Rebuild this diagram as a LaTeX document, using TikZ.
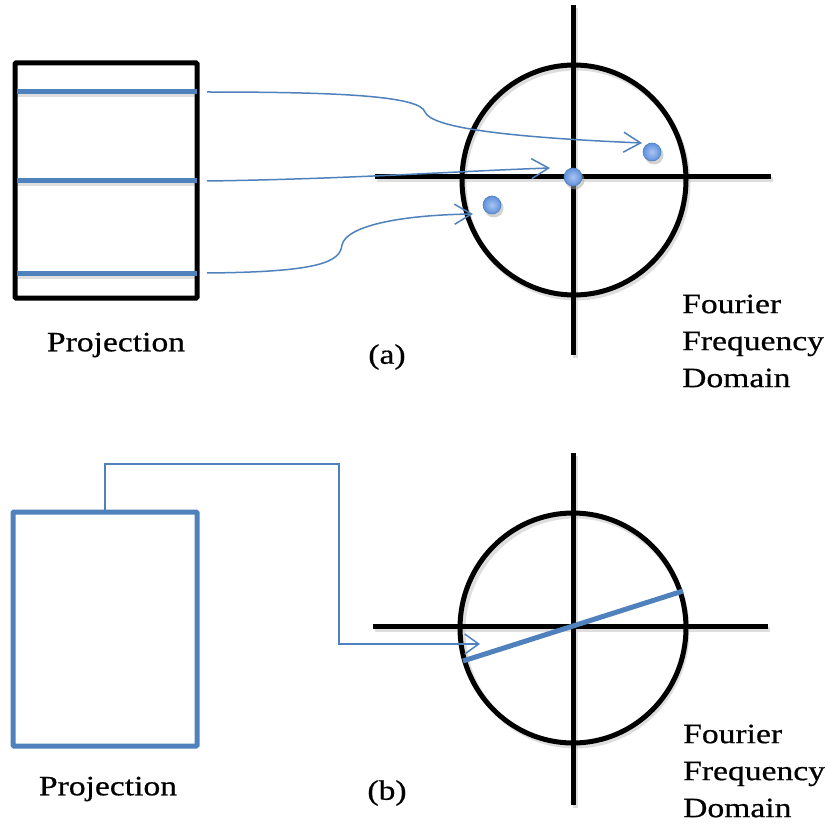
\documentclass[tikz,border=0pt]{standalone}
\usepackage{fontspec}
\setmainfont[FakeStretch=1.2,FakeBold=0.6]{Liberation Serif}
\usetikzlibrary{arrows.meta,shapes.geometric}
\definecolor{offblue}{HTML}{4F81BD}
\definecolor{dotlight}{HTML}{A9C6F2}
\definecolor{dotmid}{HTML}{5E8FDB}
\begin{document}
\begin{tikzpicture}[x=1pt,y=-1pt,
  blk/.style={line width=5pt,black},
  bluebar/.style={line width=5pt,offblue},
  conn/.style={line width=1.5pt,offblue,-{Straight Barb[length=17pt,width=20pt,line width=1.5pt]}},
  elbow/.style={line width=1.5pt,offblue,-{Straight Barb[length=14pt,width=20pt,line width=1.5pt]}},
  shadow/.style={line width=5pt,black!25,opacity=0.5},
  dot/.style={circle,minimum size=18pt,inner sep=0pt,inner color=dotlight,outer color=dotmid,draw=offblue,line width=0.6pt},
  lbl/.style={font=\fontsize{28}{37}\selectfont,inner sep=0pt},
  lblL/.style={lbl,align=left,anchor=west}
]
\useasboundingbox (0,0) rectangle (828,824);
\fill[white] (0,0) rectangle (828,824);

% ---------------- (a) ----------------
% shadows
\draw[shadow] (17,95) -- (199,95);
\draw[shadow] (17,184) -- (199,184);
\draw[shadow] (17,276) -- (199,276);
\draw[shadow] (377,180) -- (773,180);
\draw[shadow] (575,8) -- (575,358);
\draw[shadow] (576,183) ellipse [x radius=112,y radius=115];

\node[draw,blk,rounded corners=1pt,minimum width=182pt,minimum height=235pt,inner sep=0pt] (projA) at (106,180.5) {};
\coordinate (a1l) at (17,92); \coordinate (a1r) at (197,92);
\coordinate (a2l) at (17,181); \coordinate (a2r) at (197,181);
\coordinate (a3l) at (17,273); \coordinate (a3r) at (197,273);
\draw[bluebar] (a1l) -- (a1r);
\draw[bluebar] (a2l) -- (a2r);
\draw[bluebar] (a3l) -- (a3r);

\node[draw,blk,ellipse,minimum width=224pt,minimum height=230pt,inner sep=0pt] (circA) at (574,180) {};
\coordinate (hA1) at (375,177); \coordinate (hA2) at (771,177);
\coordinate (vA1) at (573,5); \coordinate (vA2) at (573,355);
\draw[blk] (hA1) -- (hA2);
\draw[blk] (vA1) -- (vA2);

% dots
\fill[black!35,opacity=0.5] (575,180) circle (9.5);
\fill[black!35,opacity=0.5] (654,155) circle (9.5);
\fill[black!35,opacity=0.5] (494,208) circle (9.5);
\node[dot] (d0) at (573,177) {};
\node[dot] (d1) at (652,152) {};
\node[dot] (d2) at (492,205) {};

% connectors
\coordinate (s1) at (207,92); \coordinate (t1) at (642,143);
\coordinate (s2) at (207,181); \coordinate (t2) at (550,168);
\coordinate (s3) at (207,273); \coordinate (t3) at (473,214);
\draw[conn] (s1) .. controls (340,92) and (420,96) .. (425,112)
  .. controls (431,127) and (500,137) .. (t1);
\draw[conn] (s2) .. controls (350,179) and (460,171) .. (t2);
\draw[conn] (s3) .. controls (320,272) and (340,262) .. (342,245)
  .. controls (346,226) and (400,215) .. (t3);

\node[lbl] (projAlbl) at (116,345) {Projection};
\node[lbl] (alab) at (387,357) {(a)};
\node[lblL] (fourA) at (682,341) {Fourier\\Frequency\\Domain};

% ---------------- (b) ----------------
\draw[shadow] (375,629) -- (770,629);
\draw[shadow] (575,456) -- (575,808);
\draw[shadow] (575,631) ellipse [x radius=112,y radius=115];

\node[draw,line width=5pt,offblue,rounded corners=1pt,minimum width=184pt,minimum height=234pt,inner sep=0pt] (projB) at (105,629) {};
\node[draw,blk,ellipse,minimum width=226pt,minimum height=230pt,inner sep=0pt] (circB) at (573,628) {};
\coordinate (hB1) at (373,626); \coordinate (hB2) at (768,626);
\coordinate (vB1) at (573,453); \coordinate (vB2) at (573,805);
\draw[blk] (hB1) -- (hB2);
\draw[blk] (vB1) -- (vB2);
\coordinate (lb1) at (463,661); \coordinate (lb2) at (683,591);
\draw[bluebar] (lb1) -- (lb2);

\coordinate (eb) at (480,644);
\draw[elbow] (projB.north -| 105,0) -- (105,464) -- (339,464) -- (339,644) -- (eb);

\node[lbl] (projBlbl) at (108,789) {Projection};
\node[lbl] (blab) at (387,793) {(b)};
\node[lblL] (fourB) at (683,771) {Fourier\\Frequency\\Domain};
\end{tikzpicture}
\end{document}
